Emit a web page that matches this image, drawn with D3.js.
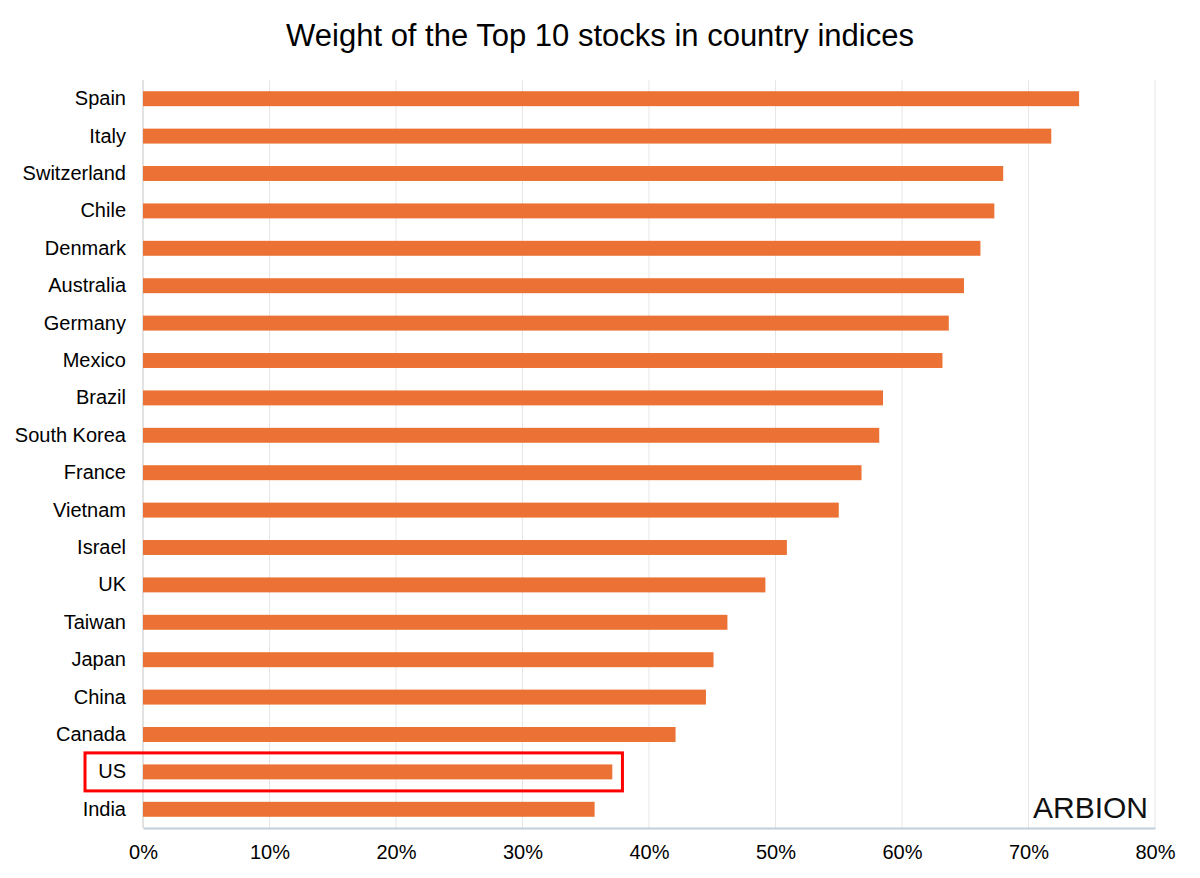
<!DOCTYPE html>
<html>
<head>
<meta charset="utf-8">
<script src="https://cdn.jsdelivr.net/npm/d3@7"></script>
<style>
  body { margin: 0; background: #fff; }
  svg { display: block; }
  text { font-family: "Liberation Sans", Arial, sans-serif; }
</style>
</head>
<body>
<svg id="chart" width="1200" height="878"></svg>
<script>
const countries = ["Spain","Italy","Switzerland","Chile","Denmark","Australia","Germany","Mexico","Brazil","South Korea","France","Vietnam","Israel","UK","Taiwan","Japan","China","Canada","US","India"];
const weights = [74.0,71.8,68.0,67.3,66.2,64.9,63.7,63.2,58.5,58.2,56.8,55.0,50.9,49.2,46.2,45.1,44.5,42.1,37.1,35.7];
const xTicks = [0,10,20,30,40,50,60,70,80];
const highlight = "US";
const title = "Weight of the Top 10 stocks in country indices";

const svg = d3.select("#chart");
const margin = {left: 143, right: 45, top: 80, bottom: 50};
const W = 1200, H = 878;
const plotBottom = 828;

const x = d3.scaleLinear().domain([0, 80]).range([margin.left, W - margin.right]);
const y = d3.scaleBand().domain(countries).range([margin.top, plotBottom]).paddingInner(0.6).paddingOuter(0.3);

// title
svg.append("text").attr("x", 600).attr("y", 46).attr("text-anchor", "middle")
  .attr("font-size", 31).attr("fill", "#000").text(title);

// gridlines
svg.append("g").selectAll("line").data(xTicks.slice(1)).join("line")
  .attr("x1", d => x(d)).attr("x2", d => x(d))
  .attr("y1", margin.top).attr("y2", plotBottom)
  .attr("stroke", "#e6e6e6").attr("stroke-width", 1);

// left axis line
svg.append("line").attr("x1", x(0)).attr("x2", x(0)).attr("y1", margin.top).attr("y2", plotBottom)
  .attr("stroke", "#d9d9d9").attr("stroke-width", 1.5);

// bars
svg.append("g").selectAll("rect").data(countries).join("rect")
  .attr("x", x(0)).attr("y", d => y(d))
  .attr("width", (d, i) => x(weights[i]) - x(0))
  .attr("height", y.bandwidth())
  .attr("fill", "#EB7234");

// bottom axis
const xAxis = d3.axisBottom(x).tickValues(xTicks).tickFormat(d => d + "%").tickSize(0).tickPadding(17);
const gx = svg.append("g").attr("transform", `translate(0,${plotBottom})`).call(xAxis);
gx.select(".domain").attr("stroke", "#bfd0db").attr("stroke-width", 2);
gx.selectAll("text").attr("font-size", 20).attr("fill", "#000").attr("font-family", "Liberation Sans, Arial, sans-serif");

// y axis labels
const yAxis = d3.axisLeft(y).tickSize(0).tickPadding(17);
const gy = svg.append("g").attr("transform", `translate(${x(0)},0)`).call(yAxis);
gy.select(".domain").remove();
gy.selectAll("text").attr("font-size", 20).attr("fill", "#000").attr("font-family", "Liberation Sans, Arial, sans-serif");

// highlight box
svg.append("rect")
  .attr("x", 85).attr("y", y(highlight) + y.bandwidth() / 2 - 19)
  .attr("width", x(37.9) - 85).attr("height", 38)
  .attr("fill", "none").attr("stroke", "#ff0000").attr("stroke-width", 3);

// logo
svg.append("text").attr("x", 1148).attr("y", 818).attr("text-anchor", "end")
  .attr("font-size", 30).attr("font-weight", 300)
  .attr("font-family", "'Open Sans', Lato, sans-serif").attr("fill", "#111").text("ARBION");
</script>
</body>
</html>
